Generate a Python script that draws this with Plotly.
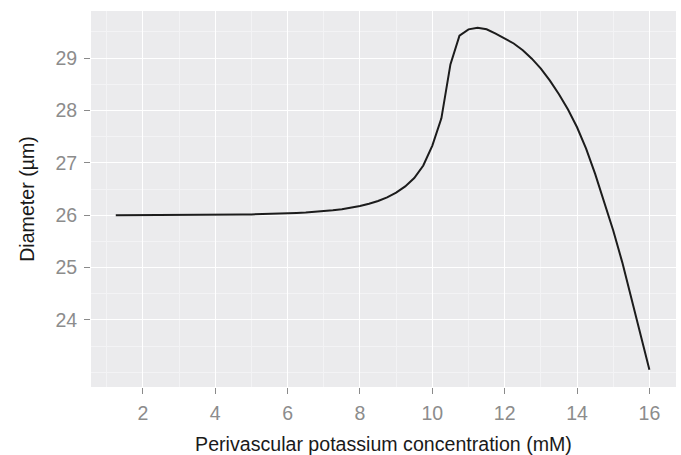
import plotly.graph_objects as go

# Perivascular potassium concentration (mM)
potassium = [1.25, 1.5, 1.75, 2.0, 2.25, 2.5, 2.75, 3.0, 3.25, 3.5, 3.75, 4.0,
             4.25, 4.5, 4.75, 5.0, 5.25, 5.5, 5.75, 6.0, 6.25, 6.5, 6.75, 7.0,
             7.25, 7.5, 7.75, 8.0, 8.25, 8.5, 8.75, 9.0, 9.25, 9.5, 9.75, 10.0,
             10.25, 10.5, 10.75, 11.0, 11.25, 11.5, 11.75, 12.0, 12.25, 12.5,
             12.75, 13.0, 13.25, 13.5, 13.75, 14.0, 14.25, 14.5, 14.75, 15.0,
             15.25, 15.5, 15.75, 16.0]
# Diameter (um)
diameter = [26.000, 26.000, 26.000, 26.001, 26.001, 26.002, 26.002, 26.003,
            26.004, 26.005, 26.006, 26.007, 26.009, 26.011, 26.013, 26.016,
            26.019, 26.023, 26.028, 26.034, 26.042, 26.051, 26.062, 26.076,
            26.093, 26.115, 26.142, 26.176, 26.218, 26.272, 26.342, 26.432,
            26.55, 26.71, 26.95, 27.33, 27.85, 28.88, 29.43, 29.55, 29.58,
            29.55, 29.47, 29.38, 29.28, 29.15, 28.99, 28.80, 28.57, 28.31,
            28.02, 27.68, 27.27, 26.79, 26.26, 25.71, 25.1, 24.43, 23.74, 23.05]

x_ticks = [2, 4, 6, 8, 10, 12, 14, 16]
y_ticks = [24, 25, 26, 27, 28, 29]

fig = go.Figure()
fig.add_trace(go.Scatter(x=potassium, y=diameter, mode="lines",
                         line=dict(color="#1c1c1c", width=2),
                         showlegend=False, hoverinfo="skip"))

font_family = "Liberation Sans, Arial, sans-serif"
axis_common = dict(
    showline=False, zeroline=False,
    gridcolor="#ffffff", gridwidth=1.3,
    ticks="outside", ticklen=6, tickwidth=1.2, tickcolor="#8a8a8a",
    ticklabelstandoff=3,
    tickfont=dict(family=font_family, size=19.5, color="#8c8c8c"),
    minor=dict(showgrid=True, gridcolor="#f3f3f5", gridwidth=1, ticks=""),
)

fig.update_layout(
    width=681, height=455,
    margin=dict(l=91, r=5, t=11, b=68),
    paper_bgcolor="#ffffff",
    plot_bgcolor="#ebebed",
    font=dict(family=font_family),
    xaxis=dict(range=[0.565, 16.735], tickvals=x_ticks,
               ticktext=[str(v) for v in x_ticks],
               minor_dtick=1, minor_tick0=0,
               title=dict(text="Perivascular potassium concentration (mM)",
                          font=dict(family=font_family, size=19.6, color="#1a1a1a"),
                          standoff=13),
               **axis_common),
    yaxis=dict(range=[22.72, 29.9], tickvals=y_ticks,
               ticktext=[str(v) for v in y_ticks],
               minor_dtick=0.5, minor_tick0=0,
               title=dict(text="Diameter (µm)",
                          font=dict(family=font_family, size=19.6, color="#1a1a1a"),
                          standoff=15),
               **axis_common),
)

fig.write_html("out.html")
